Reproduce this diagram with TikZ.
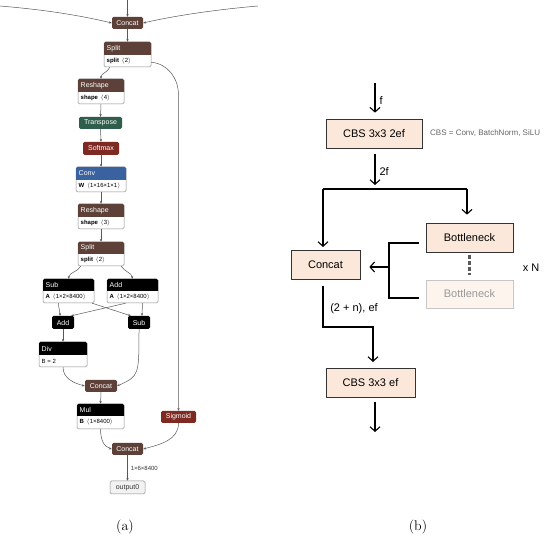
\documentclass[tikz,border=0pt]{standalone}
\usepackage{fontspec}
\newfontfamily\lsans{Liberation Sans}
\usetikzlibrary{arrows.meta,fit}
\definecolor{hbrown}{HTML}{5D4037}
\definecolor{hgreen}{HTML}{2F5E4C}
\definecolor{hred}{HTML}{7E2A22}
\definecolor{hblue}{HTML}{3A62A0}
\definecolor{peach}{HTML}{FCE8DA}
\definecolor{peachlt}{HTML}{FDF4EE}
\tikzset{
  obody/.style={draw=black!45, fill=white, rounded corners=1.5pt, inner sep=0pt, line width=0.5pt},
  ohead/.style={rounded corners=1.5pt, inner sep=0pt, draw=none},
  htext/.style={font=\lsans\fontsize{7}{7}\selectfont, text=white, inner sep=0pt},
  btext/.style={font=\lsans\fontsize{6}{6}\selectfont, text=black, inner sep=0pt},
  aedge/.style={draw=black!65, line width=0.5pt, -{Stealth[length=2.8pt,width=2.4pt]}},
  bbox/.style={draw=black!80, fill=peach, line width=0.7pt, font=\lsans\fontsize{11}{13}\selectfont, inner sep=0pt},
  bfade/.style={draw=black!22, fill=peachlt, line width=0.7pt, text=black!40, font=\lsans\fontsize{11}{13}\selectfont, inner sep=0pt},
  barr/.style={draw=black, line width=1.1pt, -{Straight Barb[length=4.5pt,width=10pt,line width=1.1pt]}},
  bline/.style={draw=black, line width=1.1pt},
  blab/.style={font=\lsans\fontsize{11}{13}\selectfont, inner sep=0pt},
  dotline/.style={draw=black!65, line width=2.2pt, dash pattern=on 3.5pt off 2.5pt},
  captext/.style={font=\fontsize{14}{16}\selectfont, inner sep=0pt}
}
\newcommand\opbox[9]{%
  \node[obody, fit={(#2,-#3)(#4,-#5)}] (#1) {};
  \begin{scope}
    \clip (#2,-#3) rectangle (#4,-#6);
    \fill[#7, rounded corners=1.5pt] (#2,-#3) rectangle (#4,-#5);
  \end{scope}
  \node[htext, anchor=west] at ({#2+2.5},{-(#3+#6)/2}) {#8};
  \node[btext, anchor=west] at ({#2+2.5},{-(#6+#5)/2}) {#9};
}
\newcommand\opone[7]{%
  \node[ohead, fill=#6, fit={(#2,-#3)(#4,-#5)}, label={[htext]center:#7}] (#1) {};
}
\begin{document}
\begin{tikzpicture}[x=1pt,y=1pt]
\useasboundingbox[fill=white] (0,0) rectangle (550,-540);
% ---------- panel (a) ----------
\opone{concatA}{112}{17}{143}{29}{hbrown}{Concat}
\opbox{splitA}{104}{42}{151}{67}{55}{hbrown}{Split}{\textbf{split}\, $\langle$2$\rangle$}
\opbox{reshapeA}{78}{79}{124}{104}{92}{hbrown}{Reshape}{\textbf{shape}\, $\langle$4$\rangle$}
\opone{transp}{79}{117}{122}{129}{hgreen}{Transpose}
\opone{softmax}{83}{142}{119}{155}{hred}{Softmax}
\opbox{conv}{76}{167}{126}{192}{180}{hblue}{Conv}{\textbf{W}\, $\langle$1×16×1×1$\rangle$}
\opbox{reshapeB}{78}{204}{124}{229}{217}{hbrown}{Reshape}{\textbf{shape}\, $\langle$3$\rangle$}
\opbox{splitB}{78}{242}{124}{266}{254}{hbrown}{Split}{\textbf{split}\, $\langle$2$\rangle$}
\opbox{subA}{43}{279}{94}{303}{291}{black}{Sub}{\textbf{A}\, $\langle$1×2×8400$\rangle$}
\opbox{addA}{107}{279}{158}{303}{291}{black}{Add}{\textbf{A}\, $\langle$1×2×8400$\rangle$}
\opone{addS}{52}{316}{74}{329}{black}{Add}
\opone{subS}{128}{316}{150}{329}{black}{Sub}
\opbox{div}{39}{342}{87}{367}{355}{black}{Div}{B = 2}
\opone{concatB}{85}{380}{117}{392}{hbrown}{Concat}
\opbox{mul}{77}{404}{124}{429}{416}{black}{Mul}{\textbf{B}\, $\langle$1×8400$\rangle$}
\opone{sigmoid}{161}{411}{196}{423}{hred}{Sigmoid}
\opone{concatC}{112}{443}{143}{455}{hbrown}{Concat}
\node[obody, fill=black!5, draw=black!45, fit={(110,-481)(145,-494)},
  label={[htext, text=black!80]center:output0}] (out0) {};

\coordinate (inL) at (0,-6);
\coordinate (inR) at (258,-6);
\coordinate (inT) at (127.5,0);
\draw[aedge] (inT) -- (concatA.north);
\draw[aedge] (inL) .. controls (60,-11) and (95,-19) .. (concatA.west);
\draw[aedge] (inR) .. controls (200,-11) and (160,-19) .. (concatA.east);
\draw[aedge] (concatA.south) -- (splitA.north);
\draw[aedge] ([xshift=6pt]splitA.south west) to[out=-110,in=90] (reshapeA.north);
\draw[aedge] ([yshift=5pt]splitA.south east) to[out=-5,in=90] (178.5,-95) -- (sigmoid.north);
\draw[aedge] (reshapeA.south) -- (transp.north);
\draw[aedge] (transp.south) -- (softmax.north);
\draw[aedge] (softmax.south) -- (conv.north);
\draw[aedge] (conv.south) -- (reshapeB.north);
\draw[aedge] (reshapeB.south) -- (splitB.north);
\draw[aedge] ([xshift=3pt]splitB.south west) to[out=-120,in=80] (subA.north);
\draw[aedge] ([xshift=-3pt]splitB.south east) to[out=-60,in=100] (addA.north);
\draw[aedge] ([xshift=-10pt]subA.south) to[out=-90,in=90] ([xshift=-3pt]addS.north);
\draw[aedge] ([xshift=-2pt]subA.south east) -- ([xshift=3pt]subS.north west);
\draw[aedge] ([xshift=-7pt]addA.south) -- ([xshift=-3pt]addS.north east);
\draw[aedge] ([xshift=10pt]addA.south) to[out=-90,in=90] ([xshift=3pt]subS.north);
\draw[aedge] (addS.south) -- (div.north);
\draw[aedge] (div.south) to[out=-90,in=165] (concatB.west);
\draw[aedge] (subS.south) .. controls (139,-376) .. (concatB.east);
\draw[aedge] (concatB.south) -- (mul.north);
\draw[aedge] (mul.south) to[out=-90,in=165] (concatC.west);
\draw[aedge] (sigmoid.south) to[out=-90,in=15] (concatC.east);
\draw[aedge] (concatC.south) -- node[btext, anchor=west, pos=0.5, xshift=3pt, text=black!80] {1×6×8400} (out0.north);
\node[captext] (capa) at (125,-527) {(a)};

% ---------- panel (b) ----------
\node[bbox, minimum width=96pt, minimum height=29pt] (cbs1) at (374,-133.5) {CBS 3x3 2ef};
\node[blab, anchor=west, text=black!60, font=\lsans\fontsize{8}{9}\selectfont] (note) at (430,-133) {CBS = Conv, BatchNorm, SiLU};
\node[bbox, minimum width=69pt, minimum height=29pt] (concat) at (325.5,-264.5) {Concat};
\node[bbox, minimum width=87pt, minimum height=29pt] (bn1) at (469.5,-237.5) {Bottleneck};
\node[bfade, minimum width=87pt, minimum height=28pt] (bn2) at (469.5,-294) {Bottleneck};
\node[bbox, minimum width=89pt, minimum height=29pt] (cbs2) at (370.5,-382.5) {CBS 3x3 ef};
\node[blab] (xn) at (531,-268) {x N};

\coordinate (fin) at (375,-83);
\draw[barr, shorten >=6pt] (fin) -- node[blab, anchor=west, xshift=4pt] {f} (fin |- cbs1.north);
\coordinate (sp) at (375,-189);
\draw[barr, shorten >=4pt] ([xshift=1pt, yshift=-6pt]cbs1.south) -- node[blab, anchor=west, xshift=4pt] {2f} (sp);
\draw[bline] (sp) -- (323,-189);
\draw[barr, shorten >=3pt] (323,-189) -- (323,-250);
\draw[bline] (sp) -- (467,-189);
\draw[barr, shorten >=8pt] (467,-189) -- (bn1.north -| 467,0);
\draw[dotline] ([yshift=-3pt]bn1.south) -- ([yshift=5pt]bn2.north);
\coordinate (bkt) at (389,-243);
\coordinate (bkb) at (389,-298);
\coordinate (bkm) at (389,-267);
\draw[bline] ([xshift=-7pt]bn1.west |- bkt) -- (bkt) -- (bkb) -- ([xshift=-7pt]bn2.west |- bkb);
\draw[barr, shorten >=9pt] (bkm) -- (bkm -| concat.east);
\coordinate (cb) at (323,-327);
\draw[barr, shorten >=6pt] (323,-286) -- (cb) -- (373,-327) -- (373,-368);
\node[blab] (lab2n) at (354,-309) {(2 + n), ef};
\coordinate (fout) at (375,-432);
\draw[barr] (375,-402) -- (fout);
\node[captext] (capb) at (418,-527) {(b)};
\end{tikzpicture}
\end{document}
